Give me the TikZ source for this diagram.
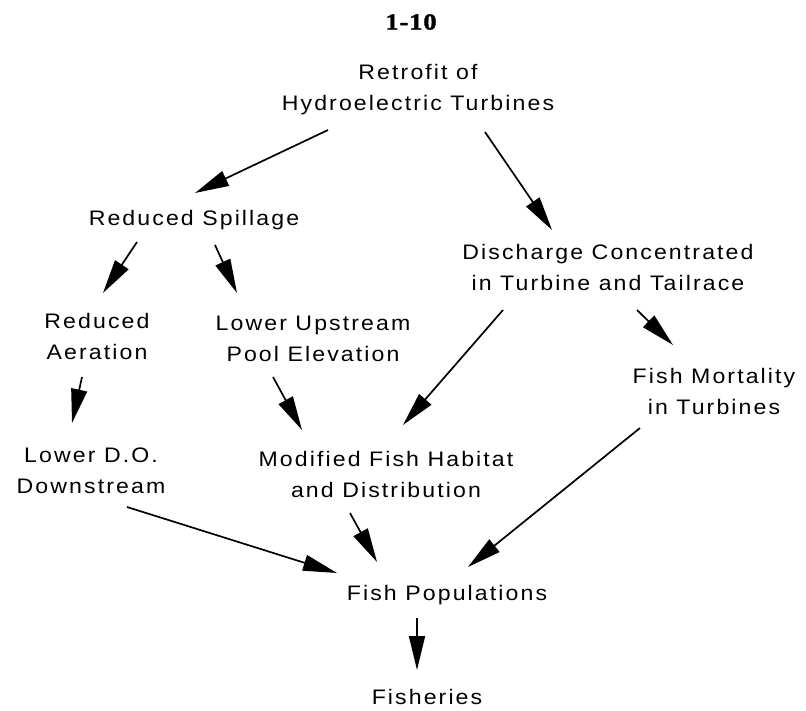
\documentclass[tikz,border=0pt]{standalone}
\usepackage{fontspec}
\setmainfont{Liberation Sans}[FakeStretch=1.1, LetterSpace=10]
\newfontfamily\titlefont{Liberation Serif}[FakeStretch=1.15, LetterSpace=4, FakeBold=1.5]
\usetikzlibrary{arrows.meta}
\tikzset{
  lbl/.style={font=\fontsize{21}{31}\selectfont, align=center, inner sep=0pt},
  ttl/.style={font=\titlefont\bfseries\fontsize{23}{27}\selectfont, inner sep=0pt},
  arr/.style={-{Triangle[length=34pt,width=16pt]}, line width=1.7pt}
}
\begin{document}
\begin{tikzpicture}[x=1pt,y=-1pt]
\fill[white] (0,0) rectangle (806,711);
\useasboundingbox (0,0) rectangle (806,711);

\node[ttl] (title) at (411,22) {1-10};
\node[lbl] (retro) at (418,90) {Retrofit of\\Hydroelectric Turbines};
\node[lbl] (spill) at (194,220) {Reduced Spillage};
\node[lbl] (disc) at (608,267) {Discharge Concentrated\\in Turbine and Tailrace};
\node[lbl] (aer) at (97,336) {Reduced\\Aeration};
\node[lbl] (pool) at (313,339) {Lower Upstream\\Pool Elevation};
\node[lbl] (mort) at (714,391) {Fish Mortality\\in Turbines};
\node[lbl] (lowdo) at (91,471) {Lower D.O.\\Downstream};
\node[lbl] (hab) at (386,474) {Modified Fish Habitat\\and Distribution};
\node[lbl] (pop) at (447,595) {Fish Populations};
\node[lbl] (fish) at (427,697) {Fisheries};

\draw[arr] ([shift={(-90,40)}]retro.center) -- ([shift={(1,-27)}]spill.center);
\draw[arr] ([shift={(67,42)}]retro.center) -- ([shift={(-56,-37)}]disc.center);
\draw[arr] ([shift={(-57,22)}]spill.center) -- ([shift={(6,-43)}]aer.center);
\draw[arr] ([shift={(21,25)}]spill.center) -- ([shift={(-76,-46)}]pool.center);
\draw[arr] ([shift={(-105,43)}]disc.center) -- ([shift={(17,-49)}]hab.center);
\draw[arr] ([shift={(29,43)}]disc.center) -- ([shift={(-41,-46)}]mort.center);
\draw[arr] ([shift={(-15,41)}]aer.center) -- ([shift={(-19,-48)}]lowdo.center);
\draw[arr] ([shift={(-40,38)}]pool.center) -- ([shift={(-84,-44)}]hab.center);
\draw[arr] ([shift={(36,36)}]lowdo.center) -- ([shift={(-110,-22)}]pop.center);
\draw[arr] ([shift={(-36,39)}]hab.center) -- ([shift={(-70,-33)}]pop.center);
\draw[arr] ([shift={(-74,37)}]mort.center) -- ([shift={(21,-28)}]pop.center);
\draw[arr] ([shift={(-30,23)}]pop.center) -- ([shift={(-10,-27)}]fish.center);
\end{tikzpicture}
\end{document}
